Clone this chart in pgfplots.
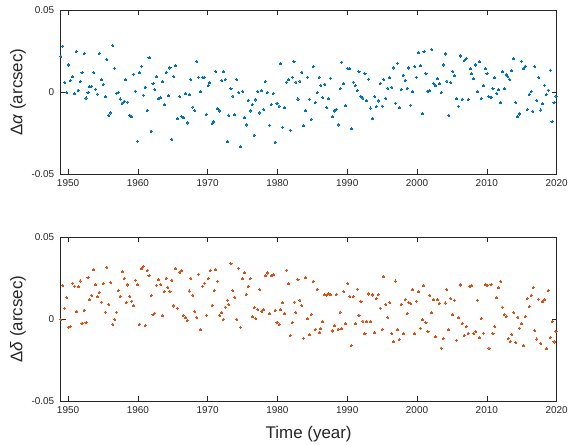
\documentclass[border=0pt]{standalone}
\usepackage{pgfplots}
\pgfplotsset{compat=1.18}
\usepackage{fontspec}
\setmainfont{Liberation Sans}

\definecolor{mblue}{RGB}{0,114,189}
\definecolor{morange}{RGB}{217,83,25}
\definecolor{axgray}{RGB}{38,38,38}

\pgfplotsset{
  panel/.style={
    scale only axis,
    width=498pt, height=165pt,
    xmin=1948.95, xmax=2020,
    ymin=-0.05, ymax=0.05,
    xtick={1950,1960,...,2020},
    xticklabels={1950,1960,1970,1980,1990,2000,2010,2020},
    ytick={-0.05,0,0.05},
    yticklabels={-0.05,0,0.05},
    scaled y ticks=false,
    tick align=inside,
    major tick length=5pt,
    axis line style={axgray, line width=0.5pt},
    every tick/.style={axgray, line width=0.5pt},
    tick label style={font=\fontsize{10}{12}\selectfont, text=axgray},
    yticklabel style={xshift=-3pt},
    xticklabel style={yshift=-2pt},
    label style={font=\fontsize{17}{20}\selectfont, text=axgray},
    ylabel style={at={(axis description cs:-0.0863,0.5)}, anchor=center},
    /pgf/number format/assume math mode=true,
  },
  dots/.style={only marks, mark=*, mark size=1.05pt, color=#1, mark options={solid, fill=#1, draw=#1, line width=0pt}},
}

\begin{document}
\begin{tikzpicture}
\path (-61pt,175pt) rectangle (510pt,-271pt);

\begin{axis}[panel, ylabel={Δ\textit{α} (arcsec)}]
\addplot[dots=mblue] table {
1948.97 0.0218
1949.24 0.0280
1949.53 0.0059
1949.81 -0.0002
1950.05 0.0165
1950.33 0.0071
1950.62 0.0093
1950.91 -0.0010
1951.19 0.0248
1951.43 0.0012
1951.72 0.0063
1952.00 0.0117
1952.29 0.0234
1952.57 -0.0036
1952.86 -0.0002
1953.09 0.0032
1953.38 0.0036
1953.66 0.0119
1953.95 0.0018
1954.19 -0.0012
1954.47 0.0234
1954.76 0.0075
1955.04 0.0046
1955.33 -0.0028
1955.56 0.0200
1955.85 -0.0141
1956.14 -0.0127
1956.42 0.0282
1956.66 0.0145
1956.94 -0.0008
1957.18 -0.0002
1957.47 -0.0042
1957.75 -0.0067
1958.04 -0.0056
1958.27 0.0075
1958.56 -0.0061
1958.85 -0.0141
1959.08 -0.0149
1959.41 0.0109
1959.65 0.0006
1959.93 -0.0299
1960.22 0.0117
1960.51 0.0157
1960.79 -0.0018
1961.03 0.0030
1961.32 -0.0111
1961.60 0.0208
1961.89 -0.0238
1962.17 0.0050
1962.41 0.0016
1962.69 0.0093
1962.98 -0.0040
1963.22 -0.0034
1963.50 0.0063
1963.79 -0.0077
1964.07 0.0121
1964.36 -0.0022
1964.60 0.0147
1964.88 -0.0287
1965.17 0.0093
1965.40 0.0161
1965.69 -0.0163
1965.98 -0.0026
1966.27 -0.0147
1966.50 -0.0157
1966.79 -0.0010
1967.07 -0.0188
1967.36 -0.0016
1967.59 0.0077
1967.88 -0.0091
1968.16 -0.0113
1968.45 0.0188
1968.69 0.0091
1968.97 0.0002
1969.26 0.0091
1969.50 0.0091
1969.78 -0.0137
1970.07 0.0040
1970.30 0.0056
1970.64 -0.0190
1970.87 -0.0178
1971.15 0.0125
1971.44 -0.0101
1971.72 -0.0115
1972.01 0.0071
1972.25 0.0123
1972.53 0.0077
1972.82 -0.0303
1973.05 -0.0143
1973.34 0.0020
1973.62 -0.0024
1973.91 -0.0139
1974.19 0.0075
1974.43 -0.0002
1974.71 -0.0333
1975.00 0.0004
1975.28 -0.0155
1975.52 -0.0200
1975.81 -0.0050
1976.09 -0.0115
1976.38 -0.0075
1976.66 -0.0262
1976.90 -0.0048
1977.19 0.0002
1977.47 -0.0127
1977.76 0.0008
1978.04 -0.0105
1978.28 0.0065
1978.56 -0.0002
1978.85 -0.0202
1979.13 -0.0075
1979.42 -0.0008
1979.66 -0.0305
1979.94 -0.0067
1980.23 -0.0085
1980.46 0.0172
1980.75 -0.0214
1981.04 -0.0095
1981.32 0.0061
1981.56 0.0075
1981.84 -0.0232
1982.13 0.0091
1982.37 0.0186
1982.65 0.0061
1982.94 -0.0042
1983.22 0.0067
1983.51 0.0121
1983.74 -0.0206
1984.03 -0.0113
1984.31 0.0091
1984.60 -0.0044
1984.84 -0.0165
1985.12 0.0155
1985.41 -0.0063
1985.69 -0.0004
1985.98 0.0091
1986.22 0.0042
1986.50 -0.0034
1986.79 0.0048
1987.07 -0.0095
1987.31 -0.0040
1987.59 0.0085
1987.88 -0.0149
1988.16 -0.0115
1988.40 -0.0105
1988.69 -0.0200
1988.97 0.0020
1989.21 0.0182
1989.50 0.0050
1989.78 -0.0083
1990.07 0.0145
1990.35 0.0145
1990.59 -0.0224
1990.87 0.0061
1991.16 0.0040
1991.44 0.0010
1991.68 0.0125
1991.97 -0.0026
1992.25 -0.0036
1992.54 0.0111
1992.77 -0.0052
1993.06 0.0079
1993.35 -0.0097
1993.63 -0.0163
1993.92 -0.0026
1994.15 -0.0087
1994.44 -0.0054
1994.72 0.0052
1995.01 -0.0085
1995.25 0.0075
1995.53 -0.0038
1995.82 0.0024
1996.10 0.0087
1996.39 0.0030
1996.58 0.0147
1996.91 -0.0067
1997.20 0.0176
1997.48 -0.0095
1997.72 0.0016
1998.00 0.0103
1998.29 0.0071
1998.57 0.0022
1998.81 0.0147
1999.10 -0.0079
1999.38 0.0002
1999.67 0.0155
1999.90 0.0091
2000.19 0.0240
2000.47 0.0161
2000.76 -0.0131
2001.00 0.0246
2001.28 0.0113
2001.57 0.0002
2001.85 0.0008
2002.09 0.0260
2002.38 0.0052
2002.66 0.0038
2002.95 0.0081
2003.18 0.0050
2003.47 -0.0002
2003.75 0.0165
2004.04 0.0232
2004.28 0.0067
2004.56 -0.0141
2004.85 0.0059
2005.13 0.0125
2005.37 0.0099
2005.66 -0.0040
2005.94 -0.0085
2006.23 0.0220
2006.46 -0.0044
2006.75 0.0192
2007.03 0.0204
2007.32 -0.0046
2007.60 0.0141
2007.84 0.0111
2008.13 0.0081
2008.41 0.0165
2008.65 0.0002
2008.94 0.0186
2009.22 -0.0038
2009.51 0.0038
2009.79 0.0143
2010.03 0.0111
2010.31 -0.0028
2010.60 -0.0032
2010.88 0.0020
2011.12 0.0087
2011.41 -0.0008
2011.69 0.0014
2011.98 -0.0065
2012.21 0.0123
2012.50 0.0020
2012.78 0.0107
2013.02 0.0093
2013.31 0.0075
2013.59 0.0129
2013.88 0.0202
2014.16 -0.0065
2014.40 -0.0151
2014.69 -0.0133
2014.97 0.0188
2015.26 0.0141
2015.49 0.0157
2015.78 -0.0107
2016.06 -0.0014
2016.35 0.0002
2016.59 -0.0117
2016.87 0.0155
2017.16 -0.0050
2017.44 0.0089
2017.73 -0.0109
2017.97 -0.0071
2018.25 0.0042
2018.54 -0.0014
2018.82 0.0012
2019.11 0.0133
2019.34 -0.0180
2019.63 -0.0065
2019.91 -0.0024
};
\end{axis}

\begin{axis}[panel, at={(0,-228pt)}, ylabel={Δ\textit{δ} (arcsec)},
  xlabel={Time (year)},
  xlabel style={at={(axis description cs:0.5,0)}, anchor=base, yshift=-37pt}]
\addplot[dots=morange] table {
1948.97 -0.0004
1949.24 0.0204
1949.53 0.0067
1949.81 0.0131
1950.09 -0.0049
1950.33 -0.0045
1950.62 0.0218
1950.91 0.0200
1951.19 0.0045
1951.48 0.0196
1951.72 0.0232
1952.00 -0.0025
1952.29 0.0055
1952.57 -0.0021
1952.86 0.0251
1953.09 0.0118
1953.38 0.0145
1953.66 0.0300
1953.95 0.0210
1954.24 0.0137
1954.47 0.0163
1954.76 0.0104
1955.04 0.0218
1955.33 0.0043
1955.56 0.0316
1955.85 0.0088
1956.14 0.0222
1956.42 -0.0031
1956.66 -0.0002
1956.94 0.0043
1957.18 0.0173
1957.47 0.0139
1957.75 0.0288
1958.04 0.0247
1958.32 0.0100
1958.56 0.0208
1958.85 0.0139
1959.13 0.0110
1959.41 0.0081
1959.65 0.0237
1959.93 0.0210
1960.22 -0.0033
1960.51 0.0306
1960.75 0.0322
1961.03 -0.0039
1961.32 0.0294
1961.60 0.0265
1961.89 0.0143
1962.17 0.0026
1962.41 0.0037
1962.69 0.0206
1962.98 0.0239
1963.27 0.0212
1963.50 0.0020
1963.79 0.0169
1964.07 0.0249
1964.31 0.0194
1964.60 0.0169
1964.88 0.0237
1965.17 0.0080
1965.40 0.0306
1965.69 0.0067
1965.98 0.0284
1966.27 0.0294
1966.50 0.0022
1966.79 0.0008
1967.07 -0.0008
1967.36 0.0171
1967.59 0.0249
1967.88 0.0145
1968.16 0.0045
1968.45 0.0010
1968.69 0.0273
1968.97 -0.0065
1969.26 0.0200
1969.54 0.0218
1969.82 0.0024
1970.06 0.0245
1970.35 0.0294
1970.64 0.0084
1970.92 0.0173
1971.15 0.0300
1971.44 0.0231
1971.72 0.0022
1972.01 0.0039
1972.25 -0.0002
1972.53 0.0073
1972.82 0.0116
1973.05 0.0088
1973.34 0.0337
1973.62 0.0173
1973.91 0.0132
1974.19 -0.0002
1974.43 0.0310
1974.71 -0.0049
1975.00 0.0247
1975.28 0.0284
1975.52 0.0151
1975.81 0.0200
1976.09 0.0247
1976.38 0.0014
1976.66 0.0069
1976.90 0.0004
1977.19 0.0059
1977.47 0.0179
1977.76 0.0047
1978.04 0.0057
1978.28 0.0263
1978.56 0.0281
1978.85 0.0032
1979.13 0.0263
1979.42 0.0269
1979.66 0.0053
1979.94 -0.0019
1980.23 -0.0033
1980.46 0.0057
1980.75 0.0100
1981.04 0.0032
1981.32 0.0298
1981.56 0.0216
1981.84 -0.0100
1982.13 -0.0020
1982.41 0.0104
1982.65 0.0041
1982.94 0.0241
1983.22 0.0116
1983.51 0.0081
1983.74 -0.0117
1984.03 0.0251
1984.31 0.0002
1984.60 -0.0094
1984.84 0.0030
1985.12 0.0230
1985.41 -0.0063
1985.69 0.0182
1985.98 -0.0084
1986.22 -0.0059
1986.50 -0.0017
1986.74 0.0149
1987.02 0.0145
1987.31 0.0155
1987.59 0.0149
1987.88 -0.0072
1988.16 -0.0041
1988.40 0.0149
1988.69 -0.0061
1988.97 0.0043
1989.21 -0.0059
1989.50 0.0167
1989.78 -0.0029
1990.07 0.0216
1990.35 0.0139
1990.59 -0.0161
1990.87 0.0139
1991.16 -0.0029
1991.44 0.0183
1991.68 0.0024
1991.97 0.0108
1992.25 -0.0012
1992.54 -0.0090
1992.77 -0.0015
1993.06 0.0153
1993.35 -0.0015
1993.63 0.0147
1993.92 -0.0082
1994.15 0.0126
1994.44 0.0149
1994.72 0.0067
1995.01 -0.0061
1995.25 0.0257
1995.53 0.0090
1995.82 0.0010
1996.10 0.0102
1996.39 -0.0088
1996.62 -0.0137
1996.91 0.0232
1997.20 -0.0065
1997.48 -0.0124
1997.72 0.0090
1998.00 -0.0090
1998.29 0.0118
1998.57 0.0034
1998.81 0.0102
1999.10 0.0094
1999.38 0.0179
1999.67 -0.0090
1999.90 0.0110
2000.19 0.0167
2000.47 -0.0055
2000.76 -0.0004
2000.99 0.0202
2001.28 -0.0021
2001.57 -0.0074
2001.85 0.0145
2002.09 0.0039
2002.38 0.0118
2002.66 -0.0106
2002.95 0.0118
2003.18 0.0096
2003.47 -0.0176
2003.75 -0.0117
2004.04 0.0098
2004.28 0.0179
2004.56 -0.0065
2004.85 0.0124
2005.13 0.0026
2005.37 0.0114
2005.66 -0.0129
2005.94 0.0010
2006.23 0.0208
2006.46 -0.0025
2006.75 -0.0100
2007.03 -0.0047
2007.32 -0.0086
2007.56 0.0200
2007.84 0.0206
2008.13 -0.0086
2008.41 -0.0076
2008.65 0.0116
2008.94 -0.0114
2009.22 0.0004
2009.51 -0.0086
2009.79 0.0210
2010.03 0.0206
2010.31 -0.0176
2010.60 0.0210
2010.88 -0.0088
2011.12 -0.0045
2011.41 0.0130
2011.69 0.0190
2011.98 0.0230
2012.21 0.0073
2012.50 0.0028
2012.78 0.0016
2013.07 -0.0117
2013.36 -0.0137
2013.59 -0.0092
2013.88 0.0039
2014.16 -0.0143
2014.45 0.0012
2014.69 -0.0055
2014.97 -0.0029
2015.26 -0.0161
2015.49 0.0016
2015.78 0.0126
2016.06 0.0077
2016.35 0.0145
2016.63 0.0192
2016.87 -0.0069
2017.16 -0.0121
2017.44 0.0122
2017.73 -0.0147
2017.97 0.0106
2018.25 0.0118
2018.54 -0.0180
2018.82 0.0175
2019.11 -0.0112
2019.39 -0.0015
2019.63 -0.0139
2019.91 -0.0074
};
\end{axis}
\end{tikzpicture}
\end{document}
